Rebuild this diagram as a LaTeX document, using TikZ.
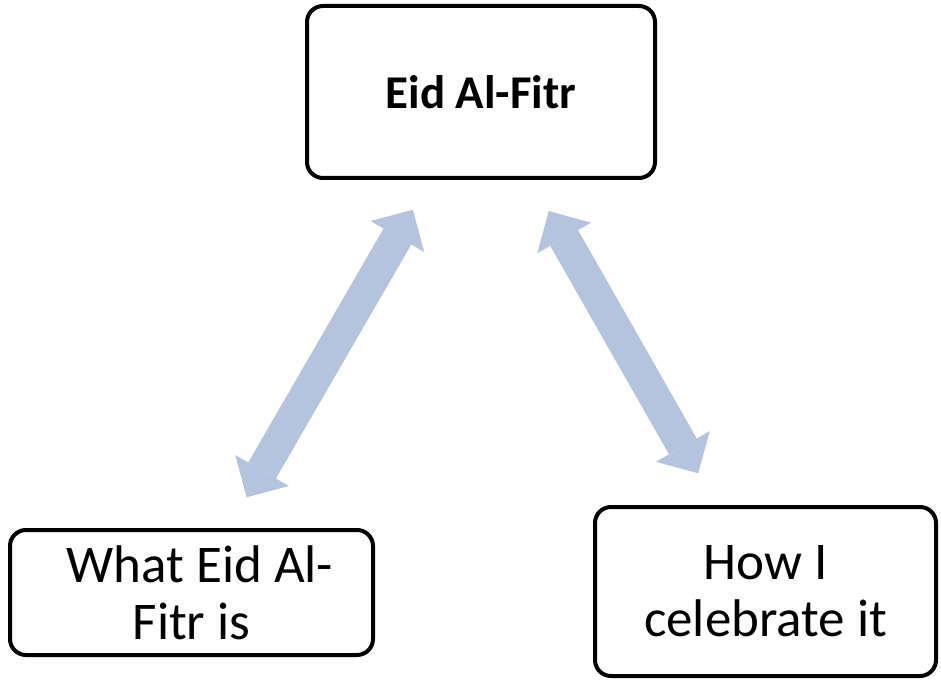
\documentclass[tikz,border=0pt]{standalone}
\usepackage{fontspec}
\setmainfont{Carlito}
\usetikzlibrary{arrows.meta}

\definecolor{linkblue}{RGB}{180,196,222}

\begin{document}
\begin{tikzpicture}[x=1pt,y=-1pt,
        box/.style={draw,line width=4pt,rounded corners=16pt,align=center,inner sep=0pt},
        link/.style={linkblue,line width=32pt,{Triangle[length=31pt,width=62pt,line width=0pt]}-{Triangle[length=31pt,width=62pt,line width=0pt]}}]
    \useasboundingbox (0,0) rectangle (941,684);
    \node[box,minimum width=348pt,minimum height=172pt,font=\fontsize{47}{54}\selectfont\bfseries] (eid) at (481,92) {Eid Al-Fitr};
    \node[box,minimum width=363pt,minimum height=125pt,font=\fontsize{53}{57}\selectfont] (what) at (191.5,592.5) {\hspace*{17pt}What Eid Al-\\Fitr is};
    \node[box,minimum width=341pt,minimum height=169pt,font=\fontsize{53}{57}\selectfont] (how) at (765.5,591.5) {How I\\celebrate it};
    % double arrows between the boxes
    \draw[link,shorten <=136pt,shorten >=110pt] (eid.center) -- (what.center);
    \draw[link,shorten <=137pt,shorten >=136pt] (eid.center) -- (how.center);
\end{tikzpicture}
\end{document}
